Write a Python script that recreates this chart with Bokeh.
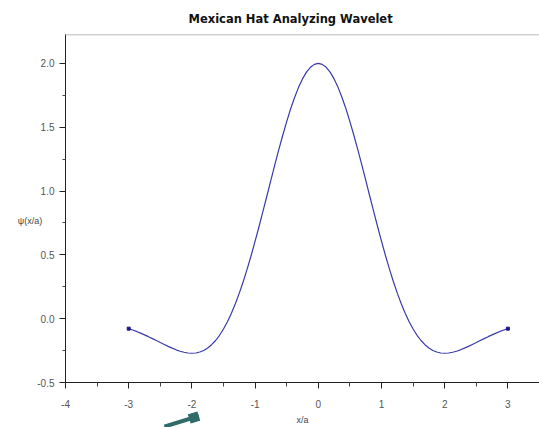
from bokeh.plotting import figure
from bokeh.models import FixedTicker, Span, Arrow, NormalHead, PrintfTickFormatter
from bokeh.embed import file_html
from bokeh.resources import INLINE

title_text = "Mexican Hat Analyzing Wavelet"
x_label = "x/a"
y_label = "\u03c8(x/a)"

x_vals = [-3.0, -2.9375, -2.875, -2.8125, -2.75, -2.6875, -2.625, -2.5625, -2.5, -2.4375, -2.375, -2.3125,
          -2.25, -2.1875, -2.125, -2.0625, -2.0, -1.9375, -1.875, -1.8125, -1.75, -1.6875, -1.625, -1.5625,
          -1.5, -1.4375, -1.375, -1.3125, -1.25, -1.1875, -1.125, -1.0625, -1.0, -0.9375, -0.875, -0.8125,
          -0.75, -0.6875, -0.625, -0.5625, -0.5, -0.4375, -0.375, -0.3125, -0.25, -0.1875, -0.125, -0.0625,
          0.0, 0.0625, 0.125, 0.1875, 0.25, 0.3125, 0.375, 0.4375, 0.5, 0.5625, 0.625, 0.6875,
          0.75, 0.8125, 0.875, 0.9375, 1.0, 1.0625, 1.125, 1.1875, 1.25, 1.3125, 1.375, 1.4375,
          1.5, 1.5625, 1.625, 1.6875, 1.75, 1.8125, 1.875, 1.9375, 2.0, 2.0625, 2.125, 2.1875,
          2.25, 2.3125, 2.375, 2.4375, 2.5, 2.5625, 2.625, 2.6875, 2.75, 2.8125, 2.875, 2.9375, 3.0]
psi_vals = [-0.078, -0.089, -0.100, -0.113, -0.127, -0.141, -0.156, -0.171, -0.187, -0.202, -0.217, -0.231,
            -0.244, -0.255, -0.263, -0.269, -0.271, -0.269, -0.261, -0.249, -0.230, -0.204, -0.171, -0.130,
            -0.081, -0.024, 0.043, 0.117, 0.200, 0.291, 0.390, 0.495, 0.607, 0.722, 0.842, 0.963,
            1.085, 1.206, 1.324, 1.437, 1.544, 1.644, 1.733, 1.812, 1.878, 1.931, 1.969, 1.992,
            2.000, 1.992, 1.969, 1.931, 1.878, 1.812, 1.733, 1.644, 1.544, 1.437, 1.324, 1.206,
            1.085, 0.963, 0.842, 0.722, 0.607, 0.495, 0.390, 0.291, 0.200, 0.117, 0.043, -0.024,
            -0.081, -0.130, -0.171, -0.204, -0.230, -0.249, -0.261, -0.269, -0.271, -0.269, -0.263, -0.255,
            -0.244, -0.231, -0.217, -0.202, -0.187, -0.171, -0.156, -0.141, -0.127, -0.113, -0.100, -0.089, -0.078]

x_ticks = [-4, -3, -2, -1, 0, 1, 2, 3]
x_minor = [-3.5, -2.5, -1.5, -0.5, 0.5, 1.5, 2.5, 3.5]
y_ticks = [-0.5, 0.0, 0.5, 1.0, 1.5, 2.0]
y_minor = [-0.25, 0.25, 0.75, 1.25, 1.75, 2.25]

p = figure(width=539, height=427, x_range=(-4, 3.5), y_range=(-0.5, 2.226),
           output_backend="svg", toolbar_location=None,
           min_border_left=65, min_border_right=0, min_border_top=34, min_border_bottom=43)
p.outline_line_color = None
p.grid.visible = False
p.background_fill_color = "white"
p.border_fill_color = "white"

p.title.text = title_text
p.title.align = "left"
p.title.offset = 123
p.title.text_font = "DejaVu Sans"
p.title.text_font_style = "bold"
p.title.text_font_size = "11.5px"
p.title.text_color = "#111111"
p.title.standoff = 18

p.xaxis.ticker = FixedTicker(ticks=x_ticks, minor_ticks=x_minor)
p.yaxis.ticker = FixedTicker(ticks=y_ticks, minor_ticks=y_minor)
p.xaxis.formatter = PrintfTickFormatter(format="%d")
p.yaxis.formatter = PrintfTickFormatter(format="%.1f")
for ax in (p.xaxis[0], p.yaxis[0]):
    ax.axis_line_color = "#222222"
    ax.major_tick_line_color = "#222222"
    ax.minor_tick_line_color = "#444444"
    ax.major_tick_in = 0
    ax.minor_tick_in = 0
    ax.major_label_text_font = "Liberation Sans"
    ax.major_label_text_font_size = "10px"
    ax.major_label_text_color = "#555555"
    ax.axis_label_text_font = "Liberation Sans"
    ax.axis_label_text_font_style = "normal"
    ax.axis_label_text_font_size = "9px"
    ax.axis_label_text_color = "#444444"
p.xaxis.major_tick_out = 6
p.xaxis.minor_tick_out = 4
p.xaxis.major_label_standoff = 11
p.xaxis.axis_label = x_label
p.xaxis.axis_label_standoff = 4
p.yaxis.major_tick_out = 6
p.yaxis.minor_tick_out = 3
p.yaxis.major_label_standoff = 5
p.yaxis.axis_label = "\n\n" + y_label
p.yaxis.axis_label_orientation = "horizontal"
p.yaxis.axis_label_standoff = -8

p.add_layout(Span(location=2.2245, dimension="width", line_color="#8a8a8a", line_width=1))

p.line(x_vals, psi_vals, line_color="#3a3aa8", line_width=1.2, line_join="round")
p.scatter([x_vals[0], x_vals[-1]], [psi_vals[0], psi_vals[-1]], size=3,
          marker="square", color="#1a1a80")

# pointer arrow below the axis (shaft and tip)
arrow_color = "#2f6b6b"
p.add_layout(Arrow(x_start=-2.797, y_start=-0.901, x_end=-1.891, y_end=-0.7625,
                   line_color=arrow_color, line_width=4,
                   end=NormalHead(size=36, fill_alpha=0, line_alpha=0)))
p.add_layout(Arrow(x_start=-2.797, y_start=-0.901, x_end=-1.891, y_end=-0.7625,
                   line_color=arrow_color, line_width=10,
                   end=NormalHead(size=10, fill_color=arrow_color, line_color=arrow_color)))

open("out.html", "w").write(file_html(p, INLINE))
